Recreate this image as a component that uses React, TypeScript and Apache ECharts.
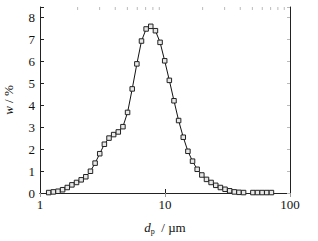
import React, { useEffect, useRef } from 'react';
import * as echarts from 'echarts';

// Particle diameter d_p (µm), log-spaced bins
const particleSize = [
  1.174, 1.279, 1.393, 1.517, 1.652, 1.8, 1.96, 2.135, 2.325, 2.533,
  2.759, 3.005, 3.273, 3.566, 3.884, 4.23, 4.607, 5.018, 5.467, 5.955,
  6.486, 7.065, 7.695, 8.383, 9.131, 9.945, 10.83, 11.8, 12.85, 14.0,
  15.25, 16.61, 18.09, 19.71, 21.47, 23.38, 25.47, 27.74, 30.22, 32.92,
  35.85, 39.05, 42.53, 46.33, 50.47, 54.95, 59.85, 65.2, 71.02,
];

// Mass fraction w (%)
const massFraction: (number | null)[] = [
  0.02, 0.05, 0.08, 0.15, 0.25, 0.37, 0.48, 0.6, 0.74, 0.99,
  1.36, 1.79, 2.22, 2.5, 2.66, 2.78, 3.02, 3.67, 4.74, 5.88,
  6.92, 7.47, 7.59, 7.39, 6.86, 6.02, 5.13, 4.2, 3.3, 2.54,
  1.9, 1.45, 1.08, 0.82, 0.62, 0.48, 0.35, 0.25, 0.17, 0.1,
  0.05, 0.03, 0.02, null, 0.02, 0.02, 0.02, 0.02, 0.02,
];

const xTickLabels = ['1', '10', '100'];
const topMinorTicks = [2, 3, 4, 5, 6, 7, 8, 9, 20, 30, 40, 50, 60, 70, 80, 90];

const Y_MAX = 8.47;

export default function App() {
  const ref = useRef<HTMLDivElement>(null);
  useEffect(() => {
    document.body.style.margin = '0';
    const chart = echarts.init(ref.current as HTMLDivElement, null, { renderer: 'svg' });
    const font = 'Liberation Serif';
    const data = particleSize.map((x, i) => [x, massFraction[i] === null ? '-' : massFraction[i]]);
    chart.setOption({
      animation: false,
      textStyle: { fontFamily: font },
      grid: { left: 40, right: 28, top: 7, bottom: 48, containLabel: false, outerBoundsMode: 'none' },
      xAxis: [
        {
          type: 'log',
          logBase: 10,
          min: 1,
          max: 100,
          name: '{i|d}{s|p}{n|  / µm}',
          nameLocation: 'middle',
          nameGap: 27,
          nameTextStyle: {
            rich: {
              i: { fontFamily: font, fontStyle: 'italic', fontSize: 13, color: '#111' },
              s: { fontFamily: font, fontSize: 8, color: '#111', padding: [7, 0, 0, 0] },
              n: { fontFamily: font, fontSize: 13, color: '#111' },
            },
          },
          axisLine: { show: true, lineStyle: { color: '#222', width: 1 } },
          axisTick: { show: true, inside: true, length: 4, lineStyle: { color: '#222' } },
          axisLabel: {
            fontFamily: font,
            fontSize: 13,
            color: '#111',
            margin: 5,
            formatter: (v: number) => {
              const s = String(Math.round(v));
              return xTickLabels.includes(s) ? s : '';
            },
          },
          splitLine: { show: false },
        },
        {
          type: 'log',
          logBase: 10,
          min: 1,
          max: 100,
          position: 'top',
          axisLine: { show: true, lineStyle: { color: '#222', width: 1 } },
          axisTick: { show: true, inside: true, length: 4, lineStyle: { color: '#999' } },
          axisLabel: { show: false },
          splitLine: { show: false },
        },
      ],
      yAxis: [
        {
          type: 'value',
          min: 0,
          max: Y_MAX,
          interval: 1,
          name: '{i|w}{n| / %}',
          nameLocation: 'middle',
          nameGap: 25,
          nameRotate: 90,
          nameTextStyle: {
            rich: {
              i: { fontFamily: font, fontStyle: 'italic', fontSize: 13, color: '#111' },
              n: { fontFamily: font, fontSize: 13, color: '#111' },
            },
          },
          axisLine: { show: true, lineStyle: { color: '#222', width: 1 } },
          axisTick: { show: true, inside: true, length: 4, lineStyle: { color: '#222' } },
          axisLabel: {
            fontFamily: font,
            fontSize: 13,
            color: '#111',
            margin: 5,
            formatter: (v: number) => (Number.isInteger(v) ? String(v) : ''),
          },
          splitLine: { show: false },
        },
        {
          type: 'value',
          min: 0,
          max: Y_MAX,
          interval: 1,
          position: 'right',
          axisLine: { show: true, lineStyle: { color: '#222', width: 1 } },
          axisTick: { show: true, inside: true, length: 3, lineStyle: { color: '#bbb' } },
          axisLabel: { show: false },
          splitLine: { show: false },
        },
      ],
      series: [
        {
          type: 'line',
          data,
          xAxisIndex: 0,
          yAxisIndex: 0,
          connectNulls: false,
          smooth: false,
          symbol: 'rect',
          symbolSize: 4.5,
          showAllSymbol: true,
          lineStyle: { color: '#111', width: 1 },
          itemStyle: { color: '#e8e8e8', borderColor: '#222', borderWidth: 1 },
          emphasis: { disabled: true },
          z: 3,
        },
        {
          type: 'custom',
          xAxisIndex: 0,
          yAxisIndex: 0,
          data: topMinorTicks.map((v) => [v, Y_MAX]),
          renderItem: (params: any, api: any) => {
            const p = api.coord([api.value(0), api.value(1)]);
            return {
              type: 'line',
              shape: { x1: p[0], y1: p[1], x2: p[0], y2: p[1] + 3 },
              style: { stroke: '#bbb', lineWidth: 1 },
            };
          },
          silent: true,
        },
      ],
    });
    return () => chart.dispose();
  }, []);
  return <div ref={ref} style={{ width: 318, height: 241 }} />;
}
